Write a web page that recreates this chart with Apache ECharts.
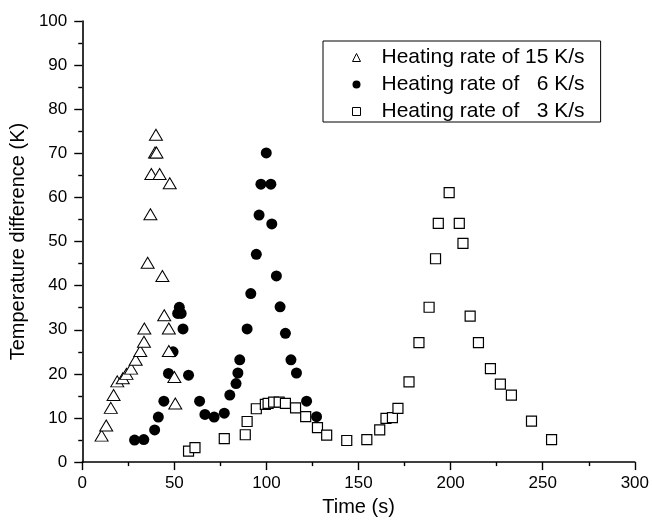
<!DOCTYPE html>
<html>
<head>
<meta charset="utf-8">
<style>
  html, body { margin: 0; padding: 0; background: #fff; }
  #chart { width: 652px; height: 522px; }
</style>
<script src="https://cdn.jsdelivr.net/npm/echarts@6/dist/echarts.min.js"></script>
</head>
<body>
<div id="chart"></div>
<script>
// Heating rate of 15 K/s: [time (s), temperature difference (K)]
const rate15 = [
  [10.5, 6], [13, 8.3], [15.5, 12.3], [17, 15.2], [19, 18.3], [22, 19],
  [24, 20], [26.5, 21.2], [29, 23.2], [31.5, 25.2], [33.5, 27.3], [33.7, 30.3],
  [35.5, 45.2], [37, 56.2], [37.5, 65.3], [39.5, 70.2], [40.3, 70.2], [40, 74.2],
  [42, 65.3], [47.5, 63.2], [43.5, 42.2], [44.5, 33.3], [47, 30.3], [47, 25.2],
  [50, 19.3], [50.5, 13.3]
];

// Heating rate of 6 K/s
const rate6 = [
  [28.4, 5], [33.4, 5.1], [39.3, 7.3], [41.3, 10.2], [44.3, 13.8], [46.8, 20.1],
  [49.3, 25], [51.8, 33.7], [52.7, 35.1], [53.7, 33.7], [54.7, 30.2], [57.7, 19.7],
  [63.7, 13.8], [66.6, 10.8], [71.6, 10.2], [77.1, 11.1], [80.1, 15.2], [83.5, 17.8],
  [84.5, 20.2], [85.5, 23.2], [89.5, 30.2], [91.5, 38.2], [94.5, 47.1], [96, 56],
  [97, 63], [99.9, 70.1], [102.4, 63], [102.9, 54], [105.4, 42.2], [107.4, 35.2],
  [110.3, 29.2], [113.3, 23.2], [116.3, 20.2], [121.8, 13.8], [127.2, 10.3]
];

// Heating rate of 3 K/s
const rate3 = [
  [57.7, 2.5], [61.2, 3.3], [77.1, 5.3], [88.5, 6.2], [89.5, 9.2], [94.5, 12.1],
  [99.4, 13.1], [100.9, 13.3], [103.9, 13.6], [106.9, 13.6], [110.3, 13.3], [115.8, 12.3],
  [121.3, 10.3], [127.7, 7.8], [132.7, 6.1], [143.6, 4.9], [154.5, 5.1], [161.5, 7.3],
  [164.9, 9.9], [168.4, 10.1], [171.4, 12.2], [177.4, 18.2], [182.8, 27.1], [188.3, 35.1],
  [191.8, 46.1], [193.3, 54.1], [199.2, 61.1], [204.7, 54.1], [206.7, 49.6], [210.6, 33.1],
  [215.1, 27.1], [221.6, 21.2], [227, 17.7], [233, 15.2], [243.9, 9.3], [254.8, 5.1]
];

const seriesNames = [
  'Heating rate of 15 K/s',
  'Heating rate of   6 K/s',
  'Heating rate of   3 K/s'
];

const FONT = 'Liberation Sans, Arial, sans-serif';

const chart = echarts.init(document.getElementById('chart'));

const axisCommon = {
  axisLine: { show: true, lineStyle: { color: '#000', width: 1.6 } },
  axisTick: { show: true, inside: false, length: 8, lineStyle: { color: '#000', width: 1.4 } },
  minorTick: { show: true, splitNumber: 2, length: 4, lineStyle: { color: '#000', width: 1.4 } },
  splitLine: { show: false },
  axisLabel: { color: '#000', fontFamily: FONT, fontSize: 17 },
  nameTextStyle: { color: '#000', fontFamily: FONT, fontSize: 20 }
};

chart.setOption({
  animation: false,
  backgroundColor: '#fff',
  grid: { left: 82, right: 16, top: 21, bottom: 53.5, containLabel: false },
  legend: {
    orient: 'vertical',
    left: 323,
    top: 41,
    padding: [6, 16, 0, 29],
    borderColor: '#000',
    borderWidth: 1,
    itemGap: 6,
    itemWidth: 8,
    itemHeight: 8,
    textStyle: { color: '#000', fontFamily: FONT, fontSize: 21, padding: [0, 0, 0, 16] },
    data: [
      { name: seriesNames[0], icon: 'triangle', itemStyle: { color: '#fff', borderColor: '#000', borderWidth: 1, opacity: 1 } },
      { name: seriesNames[1], icon: 'circle', itemStyle: { color: '#000', opacity: 1 } },
      { name: seriesNames[2], icon: 'rect', itemStyle: { color: '#fff', borderColor: '#000', borderWidth: 1, opacity: 1 } }
    ]
  },
  xAxis: Object.assign({}, axisCommon, {
    type: 'value',
    min: 0, max: 300, interval: 50,
    name: 'Time (s)',
    nameLocation: 'middle',
    nameGap: 33,
    axisLabel: Object.assign({}, axisCommon.axisLabel, { margin: 13 })
  }),
  yAxis: Object.assign({}, axisCommon, {
    type: 'value',
    min: 0, max: 100, interval: 10,
    name: 'Temperature difference (K)',
    nameLocation: 'middle',
    nameGap: 47,
    axisLabel: Object.assign({}, axisCommon.axisLabel, { margin: 15 })
  }),
  series: [
    {
      name: seriesNames[0],
      type: 'scatter',
      data: rate15,
      symbol: 'triangle',
      symbolSize: [13, 11],
      itemStyle: { color: '#fff', borderColor: '#000', borderWidth: 1, opacity: 1 },
      z: 3
    },
    {
      name: seriesNames[1],
      type: 'scatter',
      data: rate6,
      symbol: 'circle',
      symbolSize: 11,
      itemStyle: { color: '#000', borderWidth: 0, opacity: 1 },
      z: 2
    },
    {
      name: seriesNames[2],
      type: 'scatter',
      data: rate3,
      symbol: 'rect',
      symbolSize: 10,
      itemStyle: { color: '#fff', borderColor: '#000', borderWidth: 1.2, opacity: 1 },
      z: 1
    }
  ]
});
</script>
</body>
</html>
